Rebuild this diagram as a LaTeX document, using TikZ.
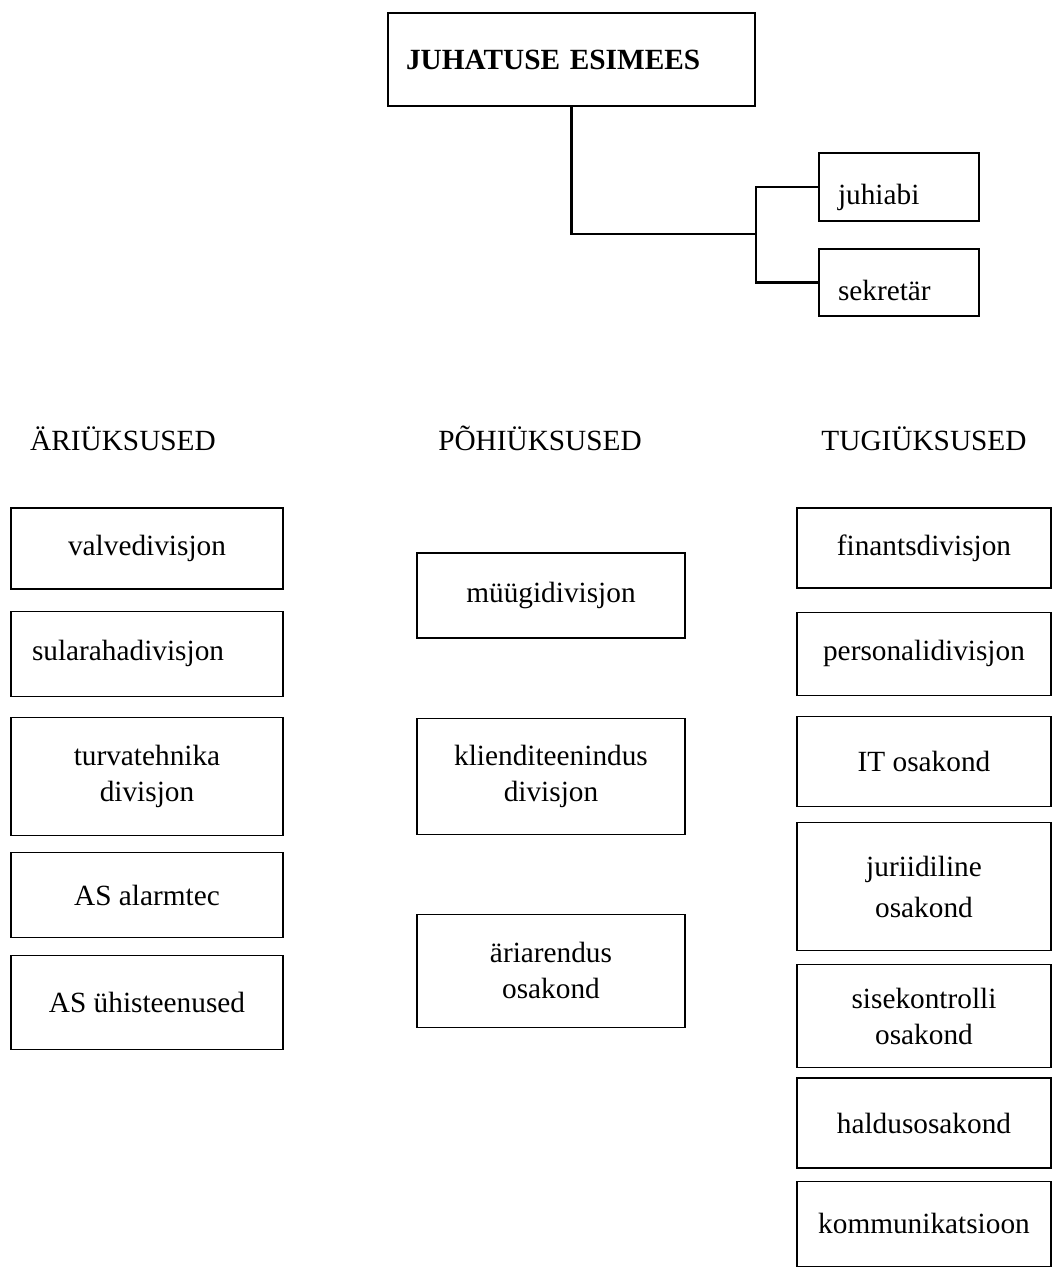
\documentclass[tikz,border=0pt]{standalone}
\usepackage{fontspec}
\setmainfont{Liberation Serif}
\usetikzlibrary{positioning}

\begin{document}
\begin{tikzpicture}[
x=1pt,y=-1pt,
font=\fontsize{29.3}{36}\selectfont,
box/.style={draw,line width=1.2pt,align=center,inner sep=0pt},
leftcol/.style={box,minimum width=272pt},
midcol/.style={box,minimum width=268pt},
rightcol/.style={box,minimum width=254pt},
aide/.style={box,minimum width=160pt,minimum height=68pt,text width=122pt,align=left,text height=40pt,text depth=6pt},
head/.style={anchor=base,inner sep=0pt},
conn/.style={line width=2.4pt}
]
\useasboundingbox (0,0) rectangle (1053,1270);

% board and assistants
\node[box,minimum width=367pt,minimum height=93pt,text width=331pt,align=left] (chair) at (571.5,59.5) {\textbf{JUHATUSE ESIMEES}};
\node[aide] (juhiabi) at (899,187) {juhiabi};
\node[aide,minimum height=67pt,text height=41pt] (sekretar) at (899,282.5) {sekretär};
\coordinate (fork) at (756,234);
\draw[conn] (chair.south) |- (fork);
\draw[conn] (fork) |- (juhiabi.west);
\draw[conn] (fork) |- (sekretar.west);

% column titles
\node[head] (hdari) at (123,450) {ÄRIÜKSUSED};
\node[head] (hdpohi) at (540,450) {PÕHIÜKSUSED};
\node[head] (hdtugi) at (924,450) {TUGIÜKSUSED};

% business units
\node[leftcol,minimum height=81pt] (valve) at (147,548.5) {valvedivisjon};
\node[leftcol,minimum height=85pt,text width=230pt,align=left,below=21pt of valve] (sulara) {sularahadivisjon};
\node[leftcol,minimum height=118pt,below=20pt of sulara] (turva) {turvatehnika\\divisjon};
\node[leftcol,minimum height=85pt,below=16pt of turva] (alarm) {AS alarmtec};
\node[leftcol,minimum height=94pt,below=17pt of alarm] (yhist) {AS ühisteenused};

% core units
\node[midcol,minimum height=85pt] (myygi) at (551,595.5) {müügidivisjon};
\node[midcol,minimum height=116pt,below=79pt of myygi] (klient) {klienditeenindus\\divisjon};
\node[midcol,minimum height=113pt,below=79pt of klient] (ariar) {äriarendus\\osakond};

% support units
\node[rightcol,minimum height=80pt] (finants) at (924,548) {finantsdivisjon};
\node[rightcol,minimum height=83pt,below=23pt of finants] (personal) {personalidivisjon};
\node[rightcol,minimum height=90pt,below=20pt of personal] (itosak) {IT osakond};
\node[rightcol,minimum height=128pt,below=15pt of itosak] (jurid) {juriidiline\\[5pt]osakond};
\node[rightcol,minimum height=103pt,below=13pt of jurid] (sisekon) {sisekontrolli\\osakond};
\node[rightcol,minimum height=90pt,below=9pt of sisekon] (haldus) {haldusosakond};
\node[rightcol,minimum height=85pt,below=12pt of haldus] (kommun) {kommunikatsioon};
\end{tikzpicture}
\end{document}
